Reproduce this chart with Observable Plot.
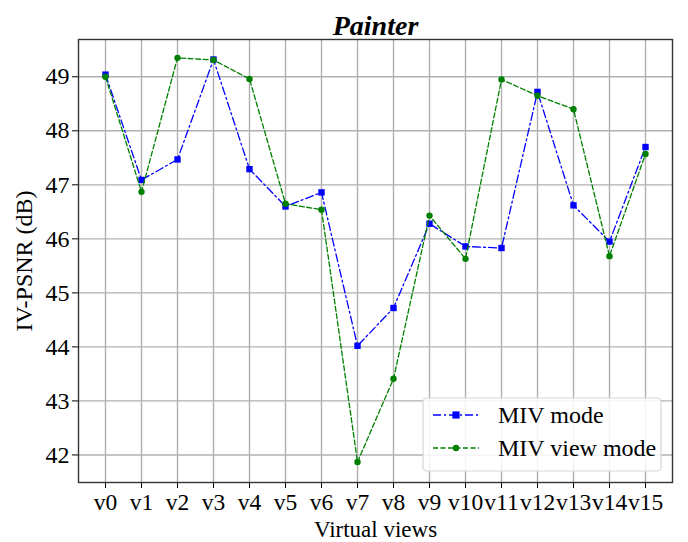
<!DOCTYPE html>
<html>
<head>
<meta charset="utf-8">
<script src="https://cdn.jsdelivr.net/npm/d3@7"></script>
<script src="https://cdn.jsdelivr.net/npm/@observablehq/plot@0.6"></script>
<style>
  html, body { margin: 0; padding: 0; background: #fff; }
  #chart { width: 688px; height: 542px; }
</style>
</head>
<body>
<div id="chart"></div>
<script>
const views = ["v0","v1","v2","v3","v4","v5","v6","v7","v8","v9","v10","v11","v12","v13","v14","v15"];
const mivMode     = [49.04, 47.09, 47.47, 49.32, 47.29, 46.60, 46.86, 44.02, 44.72, 46.28, 45.86, 45.83, 48.72, 46.62, 45.95, 47.70];
const mivViewMode = [49.00, 46.87, 49.35, 49.31, 48.96, 46.65, 46.54, 41.87, 43.41, 46.43, 45.63, 48.95, 48.65, 48.40, 45.68, 47.57];
const yTicks = [42, 43, 44, 45, 46, 47, 48, 49];
const seriesNames = ["MIV mode", "MIV view mode"];
const titleText = "Painter";
const xLabel = "Virtual views";
const yLabel = "IV-PSNR (dB)";

const blue = "#0000ff", green = "#008000";
const dashDot = "8,3,2,3", dashed = "5,2.5";
const font = "'Liberation Serif', 'Times New Roman', serif";
const fs = 24;

const W = 688, H = 542, mT = 39, mB = 60, mL = 78, mR = 16;

const blueData = views.map((v, i) => ({view: v, value: mivMode[i]}));
const greenData = views.map((v, i) => ({view: v, value: mivViewMode[i]}));

const chart = Plot.plot({
  width: W, height: H,
  marginTop: mT, marginBottom: mB, marginLeft: mL, marginRight: mR,
  style: {fontFamily: font, fontSize: fs + "px", color: "#000", background: "#fff"},
  x: {type: "point", domain: views, padding: 0.75, label: null},
  y: {domain: [41.49, 49.69], label: null},
  marks: [
    Plot.gridX(views, {stroke: "#b0b0b0", strokeOpacity: 1, strokeWidth: 1.4}),
    Plot.gridY(yTicks, {stroke: "#b0b0b0", strokeOpacity: 1, strokeWidth: 1.4}),
    Plot.axisX(views, {tickSize: 6, tickPadding: 5, fontSize: 23.5, label: null, stroke: "#000"}),
    Plot.axisY(yTicks, {tickSize: 6, tickPadding: 3, fontSize: fs, label: null, tickFormat: d => String(d), stroke: "#000"}),
    Plot.line(blueData, {x: "view", y: "value", stroke: blue, strokeWidth: 1.3, strokeDasharray: dashDot}),
    Plot.dot(blueData, {x: "view", y: "value", symbol: "square", fill: blue, r: 3.6}),
    Plot.line(greenData, {x: "view", y: "value", stroke: green, strokeWidth: 1.3, strokeDasharray: dashed}),
    Plot.dot(greenData, {x: "view", y: "value", symbol: "circle", fill: green, r: 3.2}),
    Plot.frame({stroke: "#333", strokeWidth: 1.4}),
    Plot.text([titleText], {frameAnchor: "top", dy: -5, lineAnchor: "bottom", fontSize: 28, fontWeight: "bold", fontStyle: "italic"}),
    Plot.text([xLabel], {frameAnchor: "bottom", dy: 38, lineAnchor: "top", fontSize: 23}),
    Plot.text([yLabel], {frameAnchor: "left", dx: -54, rotate: -90, fontSize: fs, textAnchor: "middle"})
  ]
});

document.getElementById("chart").appendChild(chart);

// Legend (drawn into the same SVG, anchored to the lower-right of the frame)
const svg = d3.select(chart);
const frameRight = W - mR, frameBottom = H - mB;
const lw = 238, lh = 73;
const lx = frameRight - 11 - lw, ly = frameBottom - 11 - lh;
const lg = svg.append("g").attr("font-family", font).attr("text-anchor", "start");
lg.append("rect").attr("x", lx).attr("y", ly).attr("width", lw).attr("height", lh)
  .attr("rx", 4).attr("fill", "#fff").attr("fill-opacity", 0.85)
  .attr("stroke", "#d6d6d6").attr("stroke-width", 1.2);
const entries = [
  {name: seriesNames[0], color: blue, dash: dashDot, sym: "square"},
  {name: seriesNames[1], color: green, dash: dashed, sym: "circle"}
];
entries.forEach((e, i) => {
  const cy = ly + 17 + i * 33;
  lg.append("line").attr("x1", lx + 10).attr("x2", lx + 56).attr("y1", cy).attr("y2", cy)
    .attr("stroke", e.color).attr("stroke-width", 1.3).attr("stroke-dasharray", e.dash);
  if (e.sym === "square") {
    lg.append("rect").attr("x", lx + 33 - 3.6).attr("y", cy - 3.6).attr("width", 7.2).attr("height", 7.2).attr("fill", e.color);
  } else {
    lg.append("circle").attr("cx", lx + 33).attr("cy", cy).attr("r", 3.2).attr("fill", e.color);
  }
  lg.append("text").attr("x", lx + 75).attr("y", cy).attr("dy", "0.35em")
    .attr("text-anchor", "start").attr("font-size", fs).attr("fill", "#000").text(e.name);
});
</script>
</body>
</html>
